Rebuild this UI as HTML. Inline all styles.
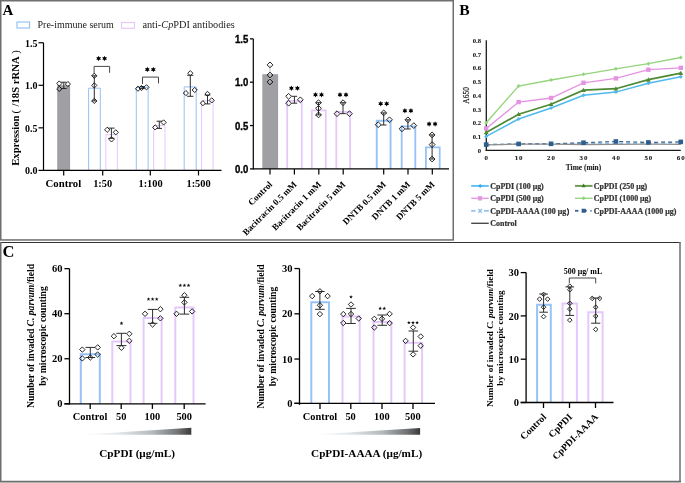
<!DOCTYPE html>
<html><head><meta charset="utf-8"><style>
html,body{margin:0;padding:0;background:#fff;}
body{width:685px;height:483px;overflow:hidden;font-family:"Liberation Serif",serif;}
svg{display:block;will-change:transform;}
</style></head><body>
<svg width="685" height="483" viewBox="0 0 685 483">
<rect width="685" height="483" fill="#fff"/>
<rect x="0.75" y="0.75" width="452.5" height="239.2" fill="none" stroke="#6e6e6e" stroke-width="1.5" />
<line x1="0" y1="242.5" x2="680.5" y2="242.5" stroke="#333" stroke-width="1.2" />
<line x1="0.75" y1="242" x2="0.75" y2="482" stroke="#6e6e6e" stroke-width="1.5" />
<line x1="680" y1="242" x2="680" y2="482" stroke="#6e6e6e" stroke-width="1.5" />
<line x1="0" y1="481.5" x2="681" y2="481.5" stroke="#6e6e6e" stroke-width="1.5" />
<rect x="0" y="482.2" width="680.8" height="0.8" fill="#a8a8a8" stroke="none" stroke-width="1" />
<text x="2.5" y="15" font-size="15" text-anchor="start" font-weight="bold" font-family='"Liberation Serif", serif' fill="#000" >A</text>
<text x="459.2" y="14.7" font-size="15.6" text-anchor="start" font-weight="bold" font-family='"Liberation Serif", serif' fill="#000" >B</text>
<text x="2.6" y="257.4" font-size="16.5" text-anchor="start" font-weight="bold" font-family='"Liberation Serif", serif' fill="#000" >C</text>
<rect x="17" y="22" width="12.5" height="6" fill="none" stroke="#96c3f6" stroke-width="1.2" />
<text x="37.5" y="28.3" font-size="10" text-anchor="start" font-weight="normal" font-family='"Liberation Serif", serif' fill="#222" >Pre-immune serum</text>
<rect x="121.5" y="22.5" width="13" height="5.8" fill="none" stroke="#e5c9fa" stroke-width="1.2" />
<text x="142.4" y="28.4" font-size="10.3" text-anchor="start" font-weight="normal" font-family='"Liberation Serif", serif' fill="#222" >anti-<tspan font-style="italic">Cp</tspan>PDI antibodies</text>
<text x="37.4" y="46.55000000000001" font-size="10" text-anchor="end" font-weight="bold" font-family='"Liberation Serif", serif' fill="#000" >1.5</text>
<text x="37.4" y="89.10000000000001" font-size="10" text-anchor="end" font-weight="bold" font-family='"Liberation Serif", serif' fill="#000" >1.0</text>
<text x="37.4" y="131.65" font-size="10" text-anchor="end" font-weight="bold" font-family='"Liberation Serif", serif' fill="#000" >0.5</text>
<text x="37.4" y="174.20000000000002" font-size="10" text-anchor="end" font-weight="bold" font-family='"Liberation Serif", serif' fill="#000" >0.0</text>
<text x="63.4" y="186.9" font-size="10.75" text-anchor="middle" font-weight="bold" font-family='"Liberation Serif", serif' fill="#000" >Control</text>
<text x="102.7" y="186.9" font-size="10.4" text-anchor="middle" font-weight="bold" font-family='"Liberation Serif", serif' fill="#000" >1:50</text>
<text x="150.6" y="186.9" font-size="10.4" text-anchor="middle" font-weight="bold" font-family='"Liberation Serif", serif' fill="#000" >1:100</text>
<text x="198.6" y="186.9" font-size="10.4" text-anchor="middle" font-weight="bold" font-family='"Liberation Serif", serif' fill="#000" >1:500</text>
<text font-size="10.7" font-weight="bold" font-family='"Liberation Serif", serif' transform="translate(19.2,165.8) rotate(-90)"><tspan x="0" y="0">Expression</tspan><tspan x="52.3" y="0" font-weight="normal">(</tspan><tspan x="59.3" y="0">/18S rRNA</tspan><tspan x="112" y="0" font-weight="normal">)</tspan></text>
<rect x="57.2" y="85.2" width="12.9" height="85.2" fill="#a0a0a4" stroke="none" stroke-width="1" />
<path d="M88.60,170.40V88.20H100.30V170.40" fill="none" stroke="#96c3f6" stroke-width="1.0"/>
<path d="M105.80,170.40V134.60H117.30V170.40" fill="none" stroke="#e5c9fa" stroke-width="1.0"/>
<path d="M136.30,170.40V87.50H148.10V170.40" fill="none" stroke="#96c3f6" stroke-width="1.0"/>
<path d="M153.70,170.40V125.50H165.00V170.40" fill="none" stroke="#e5c9fa" stroke-width="1.0"/>
<path d="M184.20,170.40V86.90H196.20V170.40" fill="none" stroke="#96c3f6" stroke-width="1.0"/>
<path d="M201.50,170.40V100.80H213.10V170.40" fill="none" stroke="#e5c9fa" stroke-width="1.0"/>
<path d="M59.30,80.90L61.90,83.50L59.30,86.10L56.70,83.50Z" fill="none" stroke="#000" stroke-width="0.85"/>
<path d="M67.90,81.50L70.50,84.10L67.90,86.70L65.30,84.10Z" fill="none" stroke="#000" stroke-width="0.85"/>
<path d="M59.30,86.30L61.90,88.90L59.30,91.50L56.70,88.90Z" fill="none" stroke="#000" stroke-width="0.85"/>
<line x1="63.8" y1="82.2" x2="63.8" y2="88.5" stroke="#222" stroke-width="0.95" />
<line x1="61.0" y1="82.2" x2="66.6" y2="82.2" stroke="#222" stroke-width="0.95" />
<line x1="61.0" y1="88.5" x2="66.6" y2="88.5" stroke="#222" stroke-width="0.95" />
<path d="M94.30,73.20L96.90,75.80L94.30,78.40L91.70,75.80Z" fill="none" stroke="#000" stroke-width="0.85"/>
<path d="M94.30,82.80L96.90,85.40L94.30,88.00L91.70,85.40Z" fill="none" stroke="#000" stroke-width="0.85"/>
<path d="M94.30,98.30L96.90,100.90L94.30,103.50L91.70,100.90Z" fill="none" stroke="#000" stroke-width="0.85"/>
<line x1="94.3" y1="75.8" x2="94.3" y2="100.9" stroke="#222" stroke-width="0.95" />
<line x1="91.7" y1="75.8" x2="96.89999999999999" y2="75.8" stroke="#222" stroke-width="0.95" />
<line x1="91.7" y1="100.9" x2="96.89999999999999" y2="100.9" stroke="#222" stroke-width="0.95" />
<path d="M107.20,127.20L109.80,129.80L107.20,132.40L104.60,129.80Z" fill="none" stroke="#000" stroke-width="0.85"/>
<path d="M115.80,129.70L118.40,132.30L115.80,134.90L113.20,132.30Z" fill="none" stroke="#000" stroke-width="0.85"/>
<path d="M111.50,136.80L114.10,139.40L111.50,142.00L108.90,139.40Z" fill="none" stroke="#000" stroke-width="0.85"/>
<line x1="111.4" y1="128.1" x2="111.4" y2="138.3" stroke="#222" stroke-width="0.95" />
<line x1="108.2" y1="128.1" x2="114.60000000000001" y2="128.1" stroke="#222" stroke-width="0.95" />
<line x1="108.2" y1="138.3" x2="114.60000000000001" y2="138.3" stroke="#222" stroke-width="0.95" />
<path d="M138.00,86.10L140.60,88.70L138.00,91.30L135.40,88.70Z" fill="none" stroke="#000" stroke-width="0.85"/>
<path d="M146.50,84.70L149.10,87.30L146.50,89.90L143.90,87.30Z" fill="none" stroke="#000" stroke-width="0.85"/>
<path d="M141.50,85.40L144.10,88.00L141.50,90.60L138.90,88.00Z" fill="none" stroke="#000" stroke-width="0.85"/>
<line x1="142.3" y1="86.6" x2="142.3" y2="88.6" stroke="#222" stroke-width="0.95" />
<line x1="139.8" y1="86.6" x2="144.8" y2="86.6" stroke="#222" stroke-width="0.95" />
<line x1="139.8" y1="88.6" x2="144.8" y2="88.6" stroke="#222" stroke-width="0.95" />
<path d="M155.20,124.80L157.80,127.40L155.20,130.00L152.60,127.40Z" fill="none" stroke="#000" stroke-width="0.85"/>
<path d="M163.60,119.80L166.20,122.40L163.60,125.00L161.00,122.40Z" fill="none" stroke="#000" stroke-width="0.85"/>
<line x1="159.3" y1="121.2" x2="159.3" y2="128.4" stroke="#222" stroke-width="0.95" />
<line x1="156.60000000000002" y1="121.2" x2="162.0" y2="121.2" stroke="#222" stroke-width="0.95" />
<line x1="156.60000000000002" y1="128.4" x2="162.0" y2="128.4" stroke="#222" stroke-width="0.95" />
<path d="M190.30,70.60L192.90,73.20L190.30,75.80L187.70,73.20Z" fill="none" stroke="#000" stroke-width="0.85"/>
<path d="M185.90,90.50L188.50,93.10L185.90,95.70L183.30,93.10Z" fill="none" stroke="#000" stroke-width="0.85"/>
<path d="M194.70,87.40L197.30,90.00L194.70,92.60L192.10,90.00Z" fill="none" stroke="#000" stroke-width="0.85"/>
<line x1="190.3" y1="75.3" x2="190.3" y2="96.3" stroke="#222" stroke-width="0.95" />
<line x1="187.20000000000002" y1="75.3" x2="193.4" y2="75.3" stroke="#222" stroke-width="0.95" />
<line x1="187.20000000000002" y1="96.3" x2="193.4" y2="96.3" stroke="#222" stroke-width="0.95" />
<path d="M207.50,91.30L210.10,93.90L207.50,96.50L204.90,93.90Z" fill="none" stroke="#000" stroke-width="0.85"/>
<path d="M202.90,100.60L205.50,103.20L202.90,105.80L200.30,103.20Z" fill="none" stroke="#000" stroke-width="0.85"/>
<path d="M211.70,97.80L214.30,100.40L211.70,103.00L209.10,100.40Z" fill="none" stroke="#000" stroke-width="0.85"/>
<line x1="207.5" y1="95.0" x2="207.5" y2="103.9" stroke="#222" stroke-width="0.95" />
<line x1="204.6" y1="95.0" x2="210.4" y2="95.0" stroke="#222" stroke-width="0.95" />
<line x1="204.6" y1="103.9" x2="210.4" y2="103.9" stroke="#222" stroke-width="0.95" />
<path d="M94.1,74 V66.4 H109.6 V72.8" fill="none" stroke="#333" stroke-width="0.9"/>
<path d="M142.5,84 V77.1 H158.5 V83.4" fill="none" stroke="#333" stroke-width="0.9"/>
<polygon points="98.60,55.65 99.32,57.14 100.98,57.02 100.05,58.40 100.98,59.77 99.32,59.66 98.60,61.15 97.88,59.66 96.22,59.77 97.15,58.40 96.22,57.02 97.88,57.14" fill="#000"/>
<polygon points="104.60,55.65 105.32,57.14 106.98,57.02 106.05,58.40 106.98,59.77 105.32,59.66 104.60,61.15 103.88,59.66 102.22,59.77 103.15,58.40 102.22,57.02 103.88,57.14" fill="#000"/>
<polygon points="147.30,66.85 148.03,68.34 149.68,68.22 148.75,69.60 149.68,70.97 148.03,70.86 147.30,72.35 146.58,70.86 144.92,70.97 145.85,69.60 144.92,68.22 146.58,68.34" fill="#000"/>
<polygon points="153.30,66.85 154.03,68.34 155.68,68.22 154.75,69.60 155.68,70.97 154.03,70.86 153.30,72.35 152.58,70.86 150.92,70.97 151.85,69.60 150.92,68.22 152.58,68.34" fill="#000"/>
<text x="0" y="0" font-size="10.4" text-anchor="end" font-weight="bold" font-family='"Liberation Sans", sans-serif' fill="#000" transform="translate(248.3,42.95) scale(0.92,1)" stroke="#000" stroke-width="0.35">1.5</text>
<text x="0" y="0" font-size="10.4" text-anchor="end" font-weight="bold" font-family='"Liberation Sans", sans-serif' fill="#000" transform="translate(248.3,86.30) scale(0.92,1)" stroke="#000" stroke-width="0.35">1.0</text>
<text x="0" y="0" font-size="10.4" text-anchor="end" font-weight="bold" font-family='"Liberation Sans", sans-serif' fill="#000" transform="translate(248.3,129.65) scale(0.92,1)" stroke="#000" stroke-width="0.35">0.5</text>
<text x="0" y="0" font-size="10.4" text-anchor="end" font-weight="bold" font-family='"Liberation Sans", sans-serif' fill="#000" transform="translate(248.3,173.00) scale(0.92,1)" stroke="#000" stroke-width="0.35">0.0</text>
<text x="0" y="0" font-size="9.05" text-anchor="end" font-weight="bold" font-family='"Liberation Serif", serif' fill="#000" transform="translate(272.9,184.9) rotate(-45)">Control</text>
<text x="0" y="0" font-size="9.05" text-anchor="end" font-weight="bold" font-family='"Liberation Serif", serif' fill="#000" transform="translate(297.29999999999995,184.9) rotate(-45)">Bacitracin 0.5 mM</text>
<text x="0" y="0" font-size="9.05" text-anchor="end" font-weight="bold" font-family='"Liberation Serif", serif' fill="#000" transform="translate(321.7,184.9) rotate(-45)">Bacitracin 1 mM</text>
<text x="0" y="0" font-size="9.05" text-anchor="end" font-weight="bold" font-family='"Liberation Serif", serif' fill="#000" transform="translate(346.09999999999997,184.9) rotate(-45)">Bacitracin 5 mM</text>
<text x="0" y="0" font-size="9.05" text-anchor="end" font-weight="bold" font-family='"Liberation Serif", serif' fill="#000" transform="translate(386.59999999999997,184.9) rotate(-45)">DNTB 0.5 mM</text>
<text x="0" y="0" font-size="9.05" text-anchor="end" font-weight="bold" font-family='"Liberation Serif", serif' fill="#000" transform="translate(410.9,184.9) rotate(-45)">DNTB 1 mM</text>
<text x="0" y="0" font-size="9.05" text-anchor="end" font-weight="bold" font-family='"Liberation Serif", serif' fill="#000" transform="translate(435.2,184.9) rotate(-45)">DNTB 5 mM</text>
<rect x="262.3" y="74.2" width="15.8" height="94.7" fill="#a0a0a4" stroke="none" stroke-width="1" />
<path d="M287.20,168.90V100.90H301.80V168.90" fill="none" stroke="#e5c9fa" stroke-width="1.8"/>
<path d="M311.80,168.90V110.30H325.80V168.90" fill="none" stroke="#e5c9fa" stroke-width="1.8"/>
<path d="M336.30,168.90V111.90H350.10V168.90" fill="none" stroke="#e5c9fa" stroke-width="1.8"/>
<path d="M376.75,168.90V120.75H390.55V168.90" fill="none" stroke="#96c3f6" stroke-width="1.9"/>
<path d="M401.70,168.90V126.30H415.30V168.90" fill="none" stroke="#96c3f6" stroke-width="1.8"/>
<path d="M425.90,168.90V147.40H439.70V168.90" fill="none" stroke="#96c3f6" stroke-width="1.8"/>
<line x1="270" y1="65" x2="270" y2="74.2" stroke="#bbb" stroke-width="0.9" />
<line x1="270" y1="74.2" x2="270" y2="82" stroke="#ccc" stroke-width="0.9" />
<path d="M270.00,62.00L272.90,64.90L270.00,67.80L267.10,64.90Z" fill="none" stroke="#000" stroke-width="0.85"/>
<path d="M270.00,72.10L272.90,75.00L270.00,77.90L267.10,75.00Z" fill="none" stroke="#000" stroke-width="0.85"/>
<path d="M270.00,79.10L272.90,82.00L270.00,84.90L267.10,82.00Z" fill="none" stroke="#000" stroke-width="0.85"/>
<path d="M288.60,93.40L291.50,96.30L288.60,99.20L285.70,96.30Z" fill="none" stroke="#000" stroke-width="0.85"/>
<path d="M288.60,100.30L291.50,103.20L288.60,106.10L285.70,103.20Z" fill="none" stroke="#000" stroke-width="0.85"/>
<path d="M300.30,96.90L303.20,99.80L300.30,102.70L297.40,99.80Z" fill="none" stroke="#000" stroke-width="0.85"/>
<line x1="294.4" y1="96.3" x2="294.4" y2="103.2" stroke="#222" stroke-width="0.95" />
<line x1="291.59999999999997" y1="96.3" x2="297.2" y2="96.3" stroke="#222" stroke-width="0.95" />
<line x1="291.59999999999997" y1="103.2" x2="297.2" y2="103.2" stroke="#222" stroke-width="0.95" />
<path d="M318.50,99.80L321.40,102.70L318.50,105.60L315.60,102.70Z" fill="none" stroke="#000" stroke-width="0.85"/>
<path d="M318.50,105.40L321.40,108.30L318.50,111.20L315.60,108.30Z" fill="none" stroke="#000" stroke-width="0.85"/>
<path d="M318.50,112.00L321.40,114.90L318.50,117.80L315.60,114.90Z" fill="none" stroke="#000" stroke-width="0.85"/>
<line x1="318.5" y1="102.7" x2="318.5" y2="114.9" stroke="#222" stroke-width="0.95" />
<line x1="315.7" y1="102.7" x2="321.3" y2="102.7" stroke="#222" stroke-width="0.95" />
<line x1="315.7" y1="114.9" x2="321.3" y2="114.9" stroke="#222" stroke-width="0.95" />
<path d="M343.00,99.80L345.90,102.70L343.00,105.60L340.10,102.70Z" fill="none" stroke="#000" stroke-width="0.85"/>
<path d="M337.00,110.80L339.90,113.70L337.00,116.60L334.10,113.70Z" fill="none" stroke="#000" stroke-width="0.85"/>
<path d="M349.50,110.80L352.40,113.70L349.50,116.60L346.60,113.70Z" fill="none" stroke="#000" stroke-width="0.85"/>
<line x1="343" y1="102.7" x2="343" y2="113.6" stroke="#222" stroke-width="0.95" />
<line x1="340.2" y1="102.7" x2="345.8" y2="102.7" stroke="#222" stroke-width="0.95" />
<line x1="340.2" y1="113.6" x2="345.8" y2="113.6" stroke="#222" stroke-width="0.95" />
<path d="M383.70,110.00L386.60,112.90L383.70,115.80L380.80,112.90Z" fill="none" stroke="#000" stroke-width="0.85"/>
<path d="M378.20,121.80L381.10,124.70L378.20,127.60L375.30,124.70Z" fill="none" stroke="#000" stroke-width="0.85"/>
<path d="M389.50,116.90L392.40,119.80L389.50,122.70L386.60,119.80Z" fill="none" stroke="#000" stroke-width="0.85"/>
<line x1="383.7" y1="112.9" x2="383.7" y2="125.0" stroke="#222" stroke-width="0.95" />
<line x1="380.9" y1="112.9" x2="386.5" y2="112.9" stroke="#222" stroke-width="0.95" />
<line x1="380.9" y1="125.0" x2="386.5" y2="125.0" stroke="#222" stroke-width="0.95" />
<path d="M407.90,116.90L410.80,119.80L407.90,122.70L405.00,119.80Z" fill="none" stroke="#000" stroke-width="0.85"/>
<path d="M402.00,125.90L404.90,128.80L402.00,131.70L399.10,128.80Z" fill="none" stroke="#000" stroke-width="0.85"/>
<path d="M413.80,122.70L416.70,125.60L413.80,128.50L410.90,125.60Z" fill="none" stroke="#000" stroke-width="0.85"/>
<line x1="407.9" y1="119.8" x2="407.9" y2="129.0" stroke="#222" stroke-width="0.95" />
<line x1="405.09999999999997" y1="119.8" x2="410.7" y2="119.8" stroke="#222" stroke-width="0.95" />
<line x1="405.09999999999997" y1="129.0" x2="410.7" y2="129.0" stroke="#222" stroke-width="0.95" />
<path d="M432.10,132.00L435.00,134.90L432.10,137.80L429.20,134.90Z" fill="none" stroke="#000" stroke-width="0.85"/>
<path d="M432.10,141.70L435.00,144.60L432.10,147.50L429.20,144.60Z" fill="none" stroke="#000" stroke-width="0.85"/>
<path d="M432.10,156.10L435.00,159.00L432.10,161.90L429.20,159.00Z" fill="none" stroke="#000" stroke-width="0.85"/>
<line x1="432.1" y1="134.9" x2="432.1" y2="159.0" stroke="#222" stroke-width="0.95" />
<line x1="429.3" y1="134.9" x2="434.90000000000003" y2="134.9" stroke="#222" stroke-width="0.95" />
<line x1="429.3" y1="159.0" x2="434.90000000000003" y2="159.0" stroke="#222" stroke-width="0.95" />
<polygon points="291.40,85.45 292.12,86.94 293.78,86.82 292.85,88.20 293.78,89.57 292.12,89.46 291.40,90.95 290.67,89.46 289.02,89.57 289.95,88.20 289.02,86.82 290.67,86.94" fill="#000"/>
<polygon points="297.40,85.45 298.12,86.94 299.78,86.82 298.85,88.20 299.78,89.57 298.12,89.46 297.40,90.95 296.67,89.46 295.02,89.57 295.95,88.20 295.02,86.82 296.67,86.94" fill="#000"/>
<polygon points="315.50,92.05 316.23,93.54 317.88,93.42 316.95,94.80 317.88,96.17 316.23,96.06 315.50,97.55 314.77,96.06 313.12,96.17 314.05,94.80 313.12,93.42 314.77,93.54" fill="#000"/>
<polygon points="321.50,92.05 322.23,93.54 323.88,93.42 322.95,94.80 323.88,96.17 322.23,96.06 321.50,97.55 320.77,96.06 319.12,96.17 320.05,94.80 319.12,93.42 320.77,93.54" fill="#000"/>
<polygon points="340.00,92.05 340.73,93.54 342.38,93.42 341.45,94.80 342.38,96.17 340.73,96.06 340.00,97.55 339.27,96.06 337.62,96.17 338.55,94.80 337.62,93.42 339.27,93.54" fill="#000"/>
<polygon points="346.00,92.05 346.73,93.54 348.38,93.42 347.45,94.80 348.38,96.17 346.73,96.06 346.00,97.55 345.27,96.06 343.62,96.17 344.55,94.80 343.62,93.42 345.27,93.54" fill="#000"/>
<polygon points="380.70,100.95 381.43,102.44 383.08,102.32 382.15,103.70 383.08,105.07 381.43,104.96 380.70,106.45 379.97,104.96 378.32,105.07 379.25,103.70 378.32,102.32 379.97,102.44" fill="#000"/>
<polygon points="386.70,100.95 387.43,102.44 389.08,102.32 388.15,103.70 389.08,105.07 387.43,104.96 386.70,106.45 385.97,104.96 384.32,105.07 385.25,103.70 384.32,102.32 385.97,102.44" fill="#000"/>
<polygon points="404.90,108.05 405.62,109.54 407.28,109.42 406.35,110.80 407.28,112.17 405.62,112.06 404.90,113.55 404.17,112.06 402.52,112.17 403.45,110.80 402.52,109.42 404.17,109.54" fill="#000"/>
<polygon points="410.90,108.05 411.62,109.54 413.28,109.42 412.35,110.80 413.28,112.17 411.62,112.06 410.90,113.55 410.17,112.06 408.52,112.17 409.45,110.80 408.52,109.42 410.17,109.54" fill="#000"/>
<polygon points="429.10,121.15 429.83,122.64 431.48,122.53 430.55,123.90 431.48,125.28 429.83,125.16 429.10,126.65 428.38,125.16 426.72,125.28 427.65,123.90 426.72,122.53 428.38,122.64" fill="#000"/>
<polygon points="435.10,121.15 435.83,122.64 437.48,122.53 436.55,123.90 437.48,125.28 435.83,125.16 435.10,126.65 434.38,125.16 432.72,125.28 433.65,123.90 432.72,122.53 434.38,122.64" fill="#000"/>
<line x1="486.3" y1="40.2" x2="486.3" y2="151.0" stroke="#1a1a1a" stroke-width="1.3" />
<line x1="485.7" y1="150.4" x2="680.8" y2="150.4" stroke="#1a1a1a" stroke-width="1.3" />
<text x="0" y="0" font-size="6.9" text-anchor="end" font-weight="bold" font-family='"Liberation Serif", serif' fill="#222" transform="translate(481.1,152.70) scale(0.97,1)" stroke="#222" stroke-width="0.12">0</text>
<text x="0" y="0" font-size="6.9" text-anchor="end" font-weight="bold" font-family='"Liberation Serif", serif' fill="#222" transform="translate(481.1,138.98) scale(0.97,1)" stroke="#222" stroke-width="0.12">0.1</text>
<text x="0" y="0" font-size="6.9" text-anchor="end" font-weight="bold" font-family='"Liberation Serif", serif' fill="#222" transform="translate(481.1,125.26) scale(0.97,1)" stroke="#222" stroke-width="0.12">0.2</text>
<text x="0" y="0" font-size="6.9" text-anchor="end" font-weight="bold" font-family='"Liberation Serif", serif' fill="#222" transform="translate(481.1,111.54) scale(0.97,1)" stroke="#222" stroke-width="0.12">0.3</text>
<text x="0" y="0" font-size="6.9" text-anchor="end" font-weight="bold" font-family='"Liberation Serif", serif' fill="#222" transform="translate(481.1,97.82) scale(0.97,1)" stroke="#222" stroke-width="0.12">0.4</text>
<text x="0" y="0" font-size="6.9" text-anchor="end" font-weight="bold" font-family='"Liberation Serif", serif' fill="#222" transform="translate(481.1,84.10) scale(0.97,1)" stroke="#222" stroke-width="0.12">0.5</text>
<text x="0" y="0" font-size="6.9" text-anchor="end" font-weight="bold" font-family='"Liberation Serif", serif' fill="#222" transform="translate(481.1,70.38) scale(0.97,1)" stroke="#222" stroke-width="0.12">0.6</text>
<text x="0" y="0" font-size="6.9" text-anchor="end" font-weight="bold" font-family='"Liberation Serif", serif' fill="#222" transform="translate(481.1,56.66) scale(0.97,1)" stroke="#222" stroke-width="0.12">0.7</text>
<text x="0" y="0" font-size="6.9" text-anchor="end" font-weight="bold" font-family='"Liberation Serif", serif' fill="#222" transform="translate(481.1,42.94) scale(0.97,1)" stroke="#222" stroke-width="0.12">0.8</text>
<text x="486.7" y="160.1" font-size="6.9" text-anchor="middle" font-weight="bold" font-family='"Liberation Serif", serif' fill="#222" letter-spacing="1" stroke="#222" stroke-width="0.12">0</text>
<text x="519.13" y="160.1" font-size="6.9" text-anchor="middle" font-weight="bold" font-family='"Liberation Serif", serif' fill="#222" letter-spacing="1" stroke="#222" stroke-width="0.12">10</text>
<text x="551.56" y="160.1" font-size="6.9" text-anchor="middle" font-weight="bold" font-family='"Liberation Serif", serif' fill="#222" letter-spacing="1" stroke="#222" stroke-width="0.12">20</text>
<text x="583.99" y="160.1" font-size="6.9" text-anchor="middle" font-weight="bold" font-family='"Liberation Serif", serif' fill="#222" letter-spacing="1" stroke="#222" stroke-width="0.12">30</text>
<text x="616.42" y="160.1" font-size="6.9" text-anchor="middle" font-weight="bold" font-family='"Liberation Serif", serif' fill="#222" letter-spacing="1" stroke="#222" stroke-width="0.12">40</text>
<text x="648.85" y="160.1" font-size="6.9" text-anchor="middle" font-weight="bold" font-family='"Liberation Serif", serif' fill="#222" letter-spacing="1" stroke="#222" stroke-width="0.12">50</text>
<text x="681.28" y="160.1" font-size="6.9" text-anchor="middle" font-weight="bold" font-family='"Liberation Serif", serif' fill="#222" letter-spacing="1" stroke="#222" stroke-width="0.12">60</text>
<text x="583.5" y="170.2" font-size="7.4" text-anchor="middle" font-weight="bold" font-family='"Liberation Serif", serif' fill="#222" stroke="#222" stroke-width="0.1">Time (min)</text>
<text x="0" y="0" font-size="8.4" text-anchor="middle" font-weight="normal" font-family='"Liberation Serif", serif' fill="#222" transform="translate(469.2,95.4) rotate(-90) scale(0.9,1)" stroke="#222" stroke-width="0.2">A650</text>
<polyline points="486.2,144.9 518.6,144.2 551.1,143.8 583.5,143.5 615.9,143.3 648.4,143.5 680.8,142.9" fill="none" stroke="#8cc4ec" stroke-width="1.1" stroke-dasharray="4,3"/>
<polyline points="486.2,144.6 518.6,144.0 551.1,143.8 583.5,142.7 615.9,141.5 648.4,142.4 680.8,141.9" fill="none" stroke="#2f5d8c" stroke-width="1.2" stroke-dasharray="4,3"/>
<polyline points="486.2,144.8 518.6,144.2 551.1,144.1 583.5,144.5 615.9,144.4 648.4,144.1 680.8,144.4" fill="none" stroke="#8f8f8f" stroke-width="1.3"/>
<rect x="483.9" y="142.3376" width="4.6" height="4.6" fill="#2f5d8c" stroke="none" stroke-width="1" />
<rect x="516.33" y="141.6516" width="4.6" height="4.6" fill="#2f5d8c" stroke="none" stroke-width="1" />
<rect x="548.76" y="141.5144" width="4.6" height="4.6" fill="#2f5d8c" stroke="none" stroke-width="1" />
<rect x="581.19" y="140.4168" width="4.6" height="4.6" fill="#2f5d8c" stroke="none" stroke-width="1" />
<rect x="613.62" y="139.182" width="4.6" height="4.6" fill="#2f5d8c" stroke="none" stroke-width="1" />
<rect x="646.0500000000001" y="140.1424" width="4.6" height="4.6" fill="#2f5d8c" stroke="none" stroke-width="1" />
<rect x="678.48" y="139.59359999999998" width="4.6" height="4.6" fill="#2f5d8c" stroke="none" stroke-width="1" />
<polyline points="486.2,136.4 518.6,119.0 551.1,108.0 583.5,95.2 615.9,92.1 648.4,83.2 680.8,76.7" fill="none" stroke="#4fb9ef" stroke-width="1.5"/>
<path d="M486.2,134.40560000000002L488.2,136.40560000000002L486.2,138.40560000000002L484.2,136.40560000000002Z" fill="#4fb9ef"/>
<path d="M518.63,116.9812L520.63,118.9812L518.63,120.9812L516.63,118.9812Z" fill="#4fb9ef"/>
<path d="M551.06,106.0052L553.06,108.0052L551.06,110.0052L549.06,108.0052Z" fill="#4fb9ef"/>
<path d="M583.49,93.24560000000001L585.49,95.24560000000001L583.49,97.24560000000001L581.49,95.24560000000001Z" fill="#4fb9ef"/>
<path d="M615.92,90.09L617.92,92.09L615.92,94.09L613.92,92.09Z" fill="#4fb9ef"/>
<path d="M648.35,81.17200000000001L650.35,83.17200000000001L648.35,85.17200000000001L646.35,83.17200000000001Z" fill="#4fb9ef"/>
<path d="M680.78,74.7236L682.78,76.7236L680.78,78.7236L678.78,76.7236Z" fill="#4fb9ef"/>
<polyline points="486.2,132.4 518.6,114.2 551.1,104.2 583.5,90.2 615.9,88.7 648.4,79.7 680.8,73.2" fill="none" stroke="#4e8a34" stroke-width="1.7"/>
<path d="M486.2,130.0268L488.59999999999997,134.3468L483.8,134.3468Z" fill="#4e8a34"/>
<path d="M518.63,111.7792L521.03,116.09920000000001L516.23,116.09920000000001Z" fill="#4e8a34"/>
<path d="M551.06,101.7636L553.4599999999999,106.0836L548.66,106.0836Z" fill="#4e8a34"/>
<path d="M583.49,87.76920000000001L585.89,92.08920000000002L581.09,92.08920000000002Z" fill="#4e8a34"/>
<path d="M615.92,86.26L618.3199999999999,90.58000000000001L613.52,90.58000000000001Z" fill="#4e8a34"/>
<path d="M648.35,77.342L650.75,81.662L645.95,81.662Z" fill="#4e8a34"/>
<path d="M680.78,70.75640000000001L683.18,75.07640000000002L678.38,75.07640000000002Z" fill="#4e8a34"/>
<polyline points="486.2,128.4 518.6,102.1 551.1,98.0 583.5,82.8 615.9,78.4 648.4,69.7 680.8,67.8" fill="none" stroke="#e592e2" stroke-width="1.3"/>
<rect x="484.0" y="126.248" width="4.4" height="4.4" fill="#e592e2" stroke="none" stroke-width="1" />
<rect x="516.43" y="99.9056" width="4.4" height="4.4" fill="#e592e2" stroke="none" stroke-width="1" />
<rect x="548.8599999999999" y="95.78960000000001" width="4.4" height="4.4" fill="#e592e2" stroke="none" stroke-width="1" />
<rect x="581.29" y="80.56040000000002" width="4.4" height="4.4" fill="#e592e2" stroke="none" stroke-width="1" />
<rect x="613.7199999999999" y="76.17" width="4.4" height="4.4" fill="#e592e2" stroke="none" stroke-width="1" />
<rect x="646.15" y="67.52640000000001" width="4.4" height="4.4" fill="#e592e2" stroke="none" stroke-width="1" />
<rect x="678.5799999999999" y="65.60560000000001" width="4.4" height="4.4" fill="#e592e2" stroke="none" stroke-width="1" />
<polyline points="486.2,122.8 518.6,86.1 551.1,80.0 583.5,74.3 615.9,68.8 648.4,63.7 680.8,57.5" fill="none" stroke="#94d47c" stroke-width="1.3"/>
<path d="M486.2,120.8228L488.2,122.8228L486.2,124.8228L484.2,122.8228Z" fill="#94d47c"/>
<path d="M518.63,84.05320000000002L520.63,86.05320000000002L518.63,88.05320000000002L516.63,86.05320000000002Z" fill="#94d47c"/>
<path d="M551.06,78.0164L553.06,80.0164L551.06,82.0164L549.06,80.0164Z" fill="#94d47c"/>
<path d="M583.49,72.254L585.49,74.254L583.49,76.254L581.49,74.254Z" fill="#94d47c"/>
<path d="M615.92,66.76600000000002L617.92,68.76600000000002L615.92,70.76600000000002L613.92,68.76600000000002Z" fill="#94d47c"/>
<path d="M648.35,61.68960000000001L650.35,63.68960000000001L648.35,65.68960000000001L646.35,63.68960000000001Z" fill="#94d47c"/>
<path d="M680.78,55.515600000000006L682.78,57.515600000000006L680.78,59.515600000000006L678.78,57.515600000000006Z" fill="#94d47c"/>
<line x1="471.2" y1="185.9" x2="488.8" y2="185.9" stroke="#5cc0f0" stroke-width="1.9"/>
<path d="M480.2,183.9L482.2,185.9L480.2,187.9L478.2,185.9Z" fill="#3aa8e8"/>
<text x="490.3" y="188.6" font-size="7.95" text-anchor="start" font-weight="bold" font-family='"Liberation Serif", serif' fill="#333" stroke="#333" stroke-width="0.22">CpPDI (100 μg)</text>
<line x1="575.0" y1="185.9" x2="592.6" y2="185.9" stroke="#6f9e57" stroke-width="2.0"/>
<path d="M583.6,183.56L585.64,187.232L581.5600000000001,187.232Z" fill="#3b7a2a"/>
<text x="593.8" y="188.6" font-size="7.95" text-anchor="start" font-weight="bold" font-family='"Liberation Serif", serif' fill="#333" stroke="#333" stroke-width="0.22">CpPDI (250 μg)</text>
<line x1="471.2" y1="198.3" x2="488.8" y2="198.3" stroke="#e79ce5" stroke-width="1.5"/>
<rect x="477.9" y="196.1" width="4.2" height="4.4" fill="#e39ae0" stroke="none" stroke-width="1" />
<text x="490.3" y="201.0" font-size="7.95" text-anchor="start" font-weight="bold" font-family='"Liberation Serif", serif' fill="#333" stroke="#333" stroke-width="0.22">CpPDI (500 μg)</text>
<line x1="575.0" y1="198.3" x2="592.6" y2="198.3" stroke="#97d781" stroke-width="1.4"/>
<path d="M583.6,196.3L585.6,198.3L583.6,200.3L581.6,198.3Z" fill="#8fd37a"/>
<text x="593.8" y="201.0" font-size="7.95" text-anchor="start" font-weight="bold" font-family='"Liberation Serif", serif' fill="#333" stroke="#333" stroke-width="0.22">CpPDI (1000 μg)</text>
<line x1="471.2" y1="210.8" x2="475.5" y2="210.8" stroke="#92c2ea" stroke-width="1.8" />
<line x1="484.0" y1="210.8" x2="488.8" y2="210.8" stroke="#92c2ea" stroke-width="1.8" />
<path d="M478.4,208.9L481.8,212.7M481.8,208.9L478.4,212.7" stroke="#7ab4e6" stroke-width="1.1" fill="none"/>
<text x="490.3" y="213.5" font-size="7.95" text-anchor="start" font-weight="bold" font-family='"Liberation Serif", serif' fill="#333" stroke="#333" stroke-width="0.22">CpPDI-AAAA (100 μg）</text>
<line x1="575.0" y1="210.8" x2="578.4" y2="210.8" stroke="#3a6494" stroke-width="1.8" />
<path d="M581.6,208.8H585.4L587.0,210.8L585.4,212.8H581.6Z" fill="#2f5d8c"/>
<rect x="590.3" y="210.0" width="1.4" height="1.6" fill="#4a72a0" stroke="none" stroke-width="1" />
<text x="593.8" y="213.5" font-size="7.95" text-anchor="start" font-weight="bold" font-family='"Liberation Serif", serif' fill="#333" stroke="#333" stroke-width="0.22">CpPDI-AAAA (1000 μg)</text>
<line x1="471.2" y1="223.3" x2="488.8" y2="223.3" stroke="#4a4a4a" stroke-width="1.4" />
<text x="490.3" y="226.0" font-size="7.95" text-anchor="start" font-weight="bold" font-family='"Liberation Serif", serif' fill="#333" stroke="#333" stroke-width="0.22">Control</text>
<text x="62.5" y="272.25" font-size="10.5" text-anchor="end" font-weight="bold" font-family='"Liberation Serif", serif' fill="#000" >60</text>
<text x="62.5" y="317.30000000000007" font-size="10.5" text-anchor="end" font-weight="bold" font-family='"Liberation Serif", serif' fill="#000" >40</text>
<text x="62.5" y="362.35" font-size="10.5" text-anchor="end" font-weight="bold" font-family='"Liberation Serif", serif' fill="#000" >20</text>
<text x="62.5" y="407.40000000000003" font-size="10.5" text-anchor="end" font-weight="bold" font-family='"Liberation Serif", serif' fill="#000" >0</text>
<text x="90.1" y="420.3" font-size="10.4" text-anchor="middle" font-weight="bold" font-family='"Liberation Serif", serif' fill="#000" >Control</text>
<text x="121.2" y="420.3" font-size="10.4" text-anchor="middle" font-weight="bold" font-family='"Liberation Serif", serif' fill="#000" >50</text>
<text x="152.3" y="420.3" font-size="10.4" text-anchor="middle" font-weight="bold" font-family='"Liberation Serif", serif' fill="#000" >100</text>
<text x="184.2" y="420.3" font-size="10.4" text-anchor="middle" font-weight="bold" font-family='"Liberation Serif", serif' fill="#000" >500</text>
<text x="0" y="0" font-size="9.6" text-anchor="middle" font-weight="bold" font-family='"Liberation Serif", serif' fill="#000" transform="translate(34,336) rotate(-90)">Number of invaded <tspan font-style="italic">C. parvum</tspan>/field</text>
<text x="0" y="0" font-size="9.6" text-anchor="middle" font-weight="bold" font-family='"Liberation Serif", serif' fill="#000" transform="translate(45.5,336) rotate(-90)">by microscopic counting</text>
<path d="M80.80,403.80V354.30H99.80V403.80" fill="none" stroke="#96c3f6" stroke-width="2.0"/>
<path d="M112.30,403.80V341.40H130.50V403.80" fill="none" stroke="#e5c9fa" stroke-width="2.0"/>
<path d="M143.60,403.80V318.00H161.60V403.80" fill="none" stroke="#e5c9fa" stroke-width="2.0"/>
<path d="M175.30,403.80V307.40H193.50V403.80" fill="none" stroke="#e5c9fa" stroke-width="2.0"/>
<path d="M82.30,346.90L85.00,349.60L82.30,352.30L79.60,349.60Z" fill="none" stroke="#000" stroke-width="0.85"/>
<path d="M97.70,344.70L100.40,347.40L97.70,350.10L95.00,347.40Z" fill="none" stroke="#000" stroke-width="0.85"/>
<path d="M97.60,351.80L100.30,354.50L97.60,357.20L94.90,354.50Z" fill="none" stroke="#000" stroke-width="0.85"/>
<path d="M82.30,355.70L85.00,358.40L82.30,361.10L79.60,358.40Z" fill="none" stroke="#000" stroke-width="0.85"/>
<path d="M90.30,354.80L93.00,357.50L90.30,360.20L87.60,357.50Z" fill="none" stroke="#000" stroke-width="0.85"/>
<line x1="90.3" y1="347.4" x2="90.3" y2="357.5" stroke="#222" stroke-width="0.95" />
<line x1="85.5" y1="347.4" x2="95.1" y2="347.4" stroke="#222" stroke-width="0.95" />
<line x1="85.5" y1="357.5" x2="95.1" y2="357.5" stroke="#222" stroke-width="0.95" />
<path d="M113.90,333.50L116.60,336.20L113.90,338.90L111.20,336.20Z" fill="none" stroke="#000" stroke-width="0.85"/>
<path d="M129.30,331.10L132.00,333.80L129.30,336.50L126.60,333.80Z" fill="none" stroke="#000" stroke-width="0.85"/>
<path d="M129.30,338.10L132.00,340.80L129.30,343.50L126.60,340.80Z" fill="none" stroke="#000" stroke-width="0.85"/>
<path d="M121.40,345.10L124.10,347.80L121.40,350.50L118.70,347.80Z" fill="none" stroke="#000" stroke-width="0.85"/>
<line x1="121.4" y1="333.3" x2="121.4" y2="345.6" stroke="#222" stroke-width="0.95" />
<line x1="116.4" y1="333.3" x2="126.4" y2="333.3" stroke="#222" stroke-width="0.95" />
<line x1="116.4" y1="345.6" x2="126.4" y2="345.6" stroke="#222" stroke-width="0.95" />
<path d="M145.00,311.10L147.70,313.80L145.00,316.50L142.30,313.80Z" fill="none" stroke="#000" stroke-width="0.85"/>
<path d="M160.40,306.50L163.10,309.20L160.40,311.90L157.70,309.20Z" fill="none" stroke="#000" stroke-width="0.85"/>
<path d="M160.40,315.60L163.10,318.30L160.40,321.00L157.70,318.30Z" fill="none" stroke="#000" stroke-width="0.85"/>
<path d="M152.60,321.80L155.30,324.50L152.60,327.20L149.90,324.50Z" fill="none" stroke="#000" stroke-width="0.85"/>
<line x1="152.6" y1="309.4" x2="152.6" y2="323.3" stroke="#222" stroke-width="0.95" />
<line x1="147.79999999999998" y1="309.4" x2="157.4" y2="309.4" stroke="#222" stroke-width="0.95" />
<line x1="147.79999999999998" y1="323.3" x2="157.4" y2="323.3" stroke="#222" stroke-width="0.95" />
<path d="M184.40,292.50L187.10,295.20L184.40,297.90L181.70,295.20Z" fill="none" stroke="#000" stroke-width="0.85"/>
<path d="M184.40,299.70L187.10,302.40L184.40,305.10L181.70,302.40Z" fill="none" stroke="#000" stroke-width="0.85"/>
<path d="M176.50,311.10L179.20,313.80L176.50,316.50L173.80,313.80Z" fill="none" stroke="#000" stroke-width="0.85"/>
<path d="M192.10,308.70L194.80,311.40L192.10,314.10L189.40,311.40Z" fill="none" stroke="#000" stroke-width="0.85"/>
<line x1="184.4" y1="297.3" x2="184.4" y2="314.1" stroke="#222" stroke-width="0.95" />
<line x1="179.6" y1="297.3" x2="189.20000000000002" y2="297.3" stroke="#222" stroke-width="0.95" />
<line x1="179.6" y1="314.1" x2="189.20000000000002" y2="314.1" stroke="#222" stroke-width="0.95" />
<polygon points="121.50,321.35 122.00,322.61 123.35,322.70 122.31,323.56 122.65,324.88 121.50,324.15 120.35,324.88 120.69,323.56 119.65,322.70 121.00,322.61" fill="#111"/>
<polygon points="148.50,297.15 149.00,298.41 150.35,298.50 149.31,299.36 149.65,300.68 148.50,299.95 147.35,300.68 147.69,299.36 146.65,298.50 148.00,298.41" fill="#111"/>
<polygon points="152.60,297.15 153.10,298.41 154.45,298.50 153.41,299.36 153.75,300.68 152.60,299.95 151.45,300.68 151.79,299.36 150.75,298.50 152.10,298.41" fill="#111"/>
<polygon points="156.70,297.15 157.20,298.41 158.55,298.50 157.51,299.36 157.85,300.68 156.70,299.95 155.55,300.68 155.89,299.36 154.85,298.50 156.20,298.41" fill="#111"/>
<polygon points="180.30,283.45 180.80,284.71 182.15,284.80 181.11,285.66 181.45,286.98 180.30,286.25 179.15,286.98 179.49,285.66 178.45,284.80 179.80,284.71" fill="#111"/>
<polygon points="184.40,283.45 184.90,284.71 186.25,284.80 185.21,285.66 185.55,286.98 184.40,286.25 183.25,286.98 183.59,285.66 182.55,284.80 183.90,284.71" fill="#111"/>
<polygon points="188.50,283.45 189.00,284.71 190.35,284.80 189.31,285.66 189.65,286.98 188.50,286.25 187.35,286.98 187.69,285.66 186.65,284.80 188.00,284.71" fill="#111"/>
<defs><linearGradient id="g1" x1="0" x2="1" y1="0" y2="0"><stop offset="0" stop-color="#fff"/><stop offset="0.35" stop-color="#e2e7ea"/><stop offset="0.65" stop-color="#b4b9bc"/><stop offset="0.88" stop-color="#707274"/><stop offset="1" stop-color="#3a3a3a"/></linearGradient></defs>
<path d="M80.5,434.7 L191.3,427.8 L191.3,434.7 Z" fill="url(#g1)"/>
<text x="137.1" y="457.2" font-size="11.2" text-anchor="middle" font-weight="bold" font-family='"Liberation Serif", serif' fill="#000" >CpPDI (μg/mL)</text>
<text x="292.5" y="272.15000000000003" font-size="10.5" text-anchor="end" font-weight="bold" font-family='"Liberation Serif", serif' fill="#000" >30</text>
<text x="292.5" y="317.40000000000003" font-size="10.5" text-anchor="end" font-weight="bold" font-family='"Liberation Serif", serif' fill="#000" >20</text>
<text x="292.5" y="362.65000000000003" font-size="10.5" text-anchor="end" font-weight="bold" font-family='"Liberation Serif", serif' fill="#000" >10</text>
<text x="292.5" y="406.90000000000003" font-size="10.5" text-anchor="end" font-weight="bold" font-family='"Liberation Serif", serif' fill="#000" >0</text>
<text x="320" y="420.3" font-size="10.4" text-anchor="middle" font-weight="bold" font-family='"Liberation Serif", serif' fill="#000" >Control</text>
<text x="350.6" y="420.3" font-size="10.4" text-anchor="middle" font-weight="bold" font-family='"Liberation Serif", serif' fill="#000" >50</text>
<text x="381.8" y="420.3" font-size="10.4" text-anchor="middle" font-weight="bold" font-family='"Liberation Serif", serif' fill="#000" >100</text>
<text x="412.9" y="420.3" font-size="10.4" text-anchor="middle" font-weight="bold" font-family='"Liberation Serif", serif' fill="#000" >500</text>
<text x="0" y="0" font-size="9.6" text-anchor="middle" font-weight="bold" font-family='"Liberation Serif", serif' fill="#000" transform="translate(264.3,336.5) rotate(-90)">Number of invaded <tspan font-style="italic">C. parvum</tspan>/field</text>
<text x="0" y="0" font-size="9.6" text-anchor="middle" font-weight="bold" font-family='"Liberation Serif", serif' fill="#000" transform="translate(275.9,336.5) rotate(-90)">by microscopic counting</text>
<path d="M311.30,403.30V302.30H329.00V403.30" fill="none" stroke="#96c3f6" stroke-width="2.0"/>
<path d="M342.50,403.30V316.50H359.70V403.30" fill="none" stroke="#e5c9fa" stroke-width="2.0"/>
<path d="M373.50,403.30V321.90H391.30V403.30" fill="none" stroke="#e5c9fa" stroke-width="2.0"/>
<path d="M404.60,403.30V342.70H422.10V403.30" fill="none" stroke="#e5c9fa" stroke-width="2.0"/>
<path d="M319.90,288.60L322.60,291.30L319.90,294.00L317.20,291.30Z" fill="none" stroke="#000" stroke-width="0.85"/>
<path d="M312.20,293.40L314.90,296.10L312.20,298.80L309.50,296.10Z" fill="none" stroke="#000" stroke-width="0.85"/>
<path d="M327.60,293.40L330.30,296.10L327.60,298.80L324.90,296.10Z" fill="none" stroke="#000" stroke-width="0.85"/>
<path d="M319.90,302.60L322.60,305.30L319.90,308.00L317.20,305.30Z" fill="none" stroke="#000" stroke-width="0.85"/>
<path d="M319.90,311.40L322.60,314.10L319.90,316.80L317.20,314.10Z" fill="none" stroke="#000" stroke-width="0.85"/>
<line x1="319.9" y1="291.5" x2="319.9" y2="309.3" stroke="#222" stroke-width="0.95" />
<line x1="315.09999999999997" y1="291.5" x2="324.7" y2="291.5" stroke="#222" stroke-width="0.95" />
<line x1="315.09999999999997" y1="309.3" x2="324.7" y2="309.3" stroke="#222" stroke-width="0.95" />
<path d="M351.00,301.80L353.70,304.50L351.00,307.20L348.30,304.50Z" fill="none" stroke="#000" stroke-width="0.85"/>
<path d="M343.30,311.40L346.00,314.10L343.30,316.80L340.60,314.10Z" fill="none" stroke="#000" stroke-width="0.85"/>
<path d="M351.00,311.30L353.70,314.00L351.00,316.70L348.30,314.00Z" fill="none" stroke="#000" stroke-width="0.85"/>
<path d="M358.70,315.80L361.40,318.50L358.70,321.20L356.00,318.50Z" fill="none" stroke="#000" stroke-width="0.85"/>
<path d="M343.30,320.30L346.00,323.00L343.30,325.70L340.60,323.00Z" fill="none" stroke="#000" stroke-width="0.85"/>
<line x1="351" y1="308.4" x2="351" y2="323.5" stroke="#222" stroke-width="0.95" />
<line x1="346.2" y1="308.4" x2="355.8" y2="308.4" stroke="#222" stroke-width="0.95" />
<line x1="346.2" y1="323.5" x2="355.8" y2="323.5" stroke="#222" stroke-width="0.95" />
<path d="M374.30,316.10L377.00,318.80L374.30,321.50L371.60,318.80Z" fill="none" stroke="#000" stroke-width="0.85"/>
<path d="M382.00,316.10L384.70,318.80L382.00,321.50L379.30,318.80Z" fill="none" stroke="#000" stroke-width="0.85"/>
<path d="M389.60,311.20L392.30,313.90L389.60,316.60L386.90,313.90Z" fill="none" stroke="#000" stroke-width="0.85"/>
<path d="M389.60,320.40L392.30,323.10L389.60,325.80L386.90,323.10Z" fill="none" stroke="#000" stroke-width="0.85"/>
<path d="M374.30,324.80L377.00,327.50L374.30,330.20L371.60,327.50Z" fill="none" stroke="#000" stroke-width="0.85"/>
<line x1="382.2" y1="315" x2="382.2" y2="325.3" stroke="#222" stroke-width="0.95" />
<line x1="377.4" y1="315" x2="387.0" y2="315" stroke="#222" stroke-width="0.95" />
<line x1="377.4" y1="325.3" x2="387.0" y2="325.3" stroke="#222" stroke-width="0.95" />
<path d="M413.10,324.80L415.80,327.50L413.10,330.20L410.40,327.50Z" fill="none" stroke="#000" stroke-width="0.85"/>
<path d="M405.60,338.20L408.30,340.90L405.60,343.60L402.90,340.90Z" fill="none" stroke="#000" stroke-width="0.85"/>
<path d="M420.70,333.80L423.40,336.50L420.70,339.20L418.00,336.50Z" fill="none" stroke="#000" stroke-width="0.85"/>
<path d="M420.70,343.00L423.40,345.70L420.70,348.40L418.00,345.70Z" fill="none" stroke="#000" stroke-width="0.85"/>
<path d="M413.10,351.70L415.80,354.40L413.10,357.10L410.40,354.40Z" fill="none" stroke="#000" stroke-width="0.85"/>
<line x1="413.3" y1="331" x2="413.3" y2="351.2" stroke="#222" stroke-width="0.95" />
<line x1="408.5" y1="331" x2="418.1" y2="331" stroke="#222" stroke-width="0.95" />
<line x1="408.5" y1="351.2" x2="418.1" y2="351.2" stroke="#222" stroke-width="0.95" />
<polygon points="351.00,295.05 351.50,296.31 352.85,296.40 351.81,297.26 352.15,298.58 351.00,297.85 349.85,298.58 350.19,297.26 349.15,296.40 350.50,296.31" fill="#111"/>
<polygon points="380.15,306.55 380.65,307.81 382.00,307.90 380.96,308.76 381.30,310.08 380.15,309.35 379.00,310.08 379.34,308.76 378.30,307.90 379.65,307.81" fill="#111"/>
<polygon points="384.25,306.55 384.75,307.81 386.10,307.90 385.06,308.76 385.40,310.08 384.25,309.35 383.10,310.08 383.44,308.76 382.40,307.90 383.75,307.81" fill="#111"/>
<polygon points="408.90,320.75 409.40,322.01 410.75,322.10 409.71,322.96 410.05,324.28 408.90,323.55 407.75,324.28 408.09,322.96 407.05,322.10 408.40,322.01" fill="#111"/>
<polygon points="413.00,320.75 413.50,322.01 414.85,322.10 413.81,322.96 414.15,324.28 413.00,323.55 411.85,324.28 412.19,322.96 411.15,322.10 412.50,322.01" fill="#111"/>
<polygon points="417.10,320.75 417.60,322.01 418.95,322.10 417.91,322.96 418.25,324.28 417.10,323.55 415.95,324.28 416.29,322.96 415.25,322.10 416.60,322.01" fill="#111"/>
<path d="M311.2,434.8 L420.1,427.9 L420.1,434.8 Z" fill="url(#g1)"/>
<text x="366.6" y="456.6" font-size="11.2" text-anchor="middle" font-weight="bold" font-family='"Liberation Serif", serif' fill="#000" >CpPDI-AAAA (μg/mL)</text>
<text x="519" y="276.20000000000005" font-size="10.5" text-anchor="end" font-weight="bold" font-family='"Liberation Serif", serif' fill="#000" >30</text>
<text x="519" y="319.5" font-size="10.5" text-anchor="end" font-weight="bold" font-family='"Liberation Serif", serif' fill="#000" >20</text>
<text x="519" y="362.8" font-size="10.5" text-anchor="end" font-weight="bold" font-family='"Liberation Serif", serif' fill="#000" >10</text>
<text x="519" y="406.1" font-size="10.5" text-anchor="end" font-weight="bold" font-family='"Liberation Serif", serif' fill="#000" >0</text>
<text x="0" y="0" font-size="9.7" text-anchor="end" font-weight="bold" font-family='"Liberation Serif", serif' fill="#000" transform="translate(546.8,417.6) rotate(-45)">Control</text>
<text x="0" y="0" font-size="9.7" text-anchor="end" font-weight="bold" font-family='"Liberation Serif", serif' fill="#000" transform="translate(572.8,417.6) rotate(-45)">CpPDI</text>
<text x="0" y="0" font-size="9.7" text-anchor="end" font-weight="bold" font-family='"Liberation Serif", serif' fill="#000" transform="translate(598.8,417.6) rotate(-45)">CpPDI-AAAA</text>
<text x="0" y="0" font-size="9.2" text-anchor="middle" font-weight="bold" font-family='"Liberation Serif", serif' fill="#000" transform="translate(492.6,338) rotate(-90)">Number of invaded <tspan font-style="italic">C. parvum</tspan>/field</text>
<text x="0" y="0" font-size="9.2" text-anchor="middle" font-weight="bold" font-family='"Liberation Serif", serif' fill="#000" transform="translate(503.2,338) rotate(-90)">by microscopic counting</text>
<path d="M537.10,402.50V304.70H550.80V402.50" fill="none" stroke="#96c3f6" stroke-width="2.0"/>
<path d="M562.60,402.50V303.60H576.90V402.50" fill="none" stroke="#e5c9fa" stroke-width="2.0"/>
<path d="M588.30,402.50V312.20H602.60V402.50" fill="none" stroke="#e5c9fa" stroke-width="2.0"/>
<path d="M539.60,296.80L541.90,299.10L539.60,301.40L537.30,299.10Z" fill="none" stroke="#000" stroke-width="0.85"/>
<path d="M547.60,296.80L549.90,299.10L547.60,301.40L545.30,299.10Z" fill="none" stroke="#000" stroke-width="0.85"/>
<path d="M543.60,304.90L545.90,307.20L543.60,309.50L541.30,307.20Z" fill="none" stroke="#000" stroke-width="0.85"/>
<path d="M543.60,314.30L545.90,316.60L543.60,318.90L541.30,316.60Z" fill="none" stroke="#000" stroke-width="0.85"/>
<path d="M543.60,292.10L545.90,294.40L543.60,296.70L541.30,294.40Z" fill="none" stroke="#000" stroke-width="0.85"/>
<line x1="543.6" y1="294.0" x2="543.6" y2="312.2" stroke="#222" stroke-width="0.95" />
<line x1="539.3000000000001" y1="294.0" x2="547.9" y2="294.0" stroke="#222" stroke-width="0.95" />
<line x1="539.3000000000001" y1="312.2" x2="547.9" y2="312.2" stroke="#222" stroke-width="0.95" />
<path d="M569.80,283.90L572.10,286.20L569.80,288.50L567.50,286.20Z" fill="none" stroke="#000" stroke-width="0.85"/>
<path d="M569.80,287.40L572.10,289.70L569.80,292.00L567.50,289.70Z" fill="none" stroke="#000" stroke-width="0.85"/>
<path d="M569.80,301.00L572.10,303.30L569.80,305.60L567.50,303.30Z" fill="none" stroke="#000" stroke-width="0.85"/>
<path d="M569.80,306.80L572.10,309.10L569.80,311.40L567.50,309.10Z" fill="none" stroke="#000" stroke-width="0.85"/>
<path d="M569.80,317.80L572.10,320.10L569.80,322.40L567.50,320.10Z" fill="none" stroke="#000" stroke-width="0.85"/>
<line x1="569.8" y1="286.9" x2="569.8" y2="315.4" stroke="#222" stroke-width="0.95" />
<line x1="565.5" y1="286.9" x2="574.0999999999999" y2="286.9" stroke="#222" stroke-width="0.95" />
<line x1="565.5" y1="315.4" x2="574.0999999999999" y2="315.4" stroke="#222" stroke-width="0.95" />
<path d="M592.20,296.10L594.50,298.40L592.20,300.70L589.90,298.40Z" fill="none" stroke="#000" stroke-width="0.85"/>
<path d="M599.70,296.10L602.00,298.40L599.70,300.70L597.40,298.40Z" fill="none" stroke="#000" stroke-width="0.85"/>
<path d="M595.70,304.90L598.00,307.20L595.70,309.50L593.40,307.20Z" fill="none" stroke="#000" stroke-width="0.85"/>
<path d="M595.70,313.80L598.00,316.10L595.70,318.40L593.40,316.10Z" fill="none" stroke="#000" stroke-width="0.85"/>
<path d="M595.70,327.10L598.00,329.40L595.70,331.70L593.40,329.40Z" fill="none" stroke="#000" stroke-width="0.85"/>
<line x1="595.7" y1="298.0" x2="595.7" y2="323.2" stroke="#222" stroke-width="0.95" />
<line x1="591.1" y1="298.0" x2="600.3000000000001" y2="298.0" stroke="#222" stroke-width="0.95" />
<line x1="591.1" y1="323.2" x2="600.3000000000001" y2="323.2" stroke="#222" stroke-width="0.95" />
<path d="M569.3,283.4 V278 H595.7 V283.4" fill="none" stroke="#333" stroke-width="0.9"/>
<text x="583" y="274.1" font-size="7.95" text-anchor="middle" font-weight="bold" font-family='"Liberation Serif", serif' fill="#000" >500 μg/ mL</text>
<line x1="43.5" y1="42.750000000000014" x2="43.5" y2="171.0" stroke="#000" stroke-width="1.2" />
<line x1="43.5" y1="170.4" x2="221.5" y2="170.4" stroke="#000" stroke-width="1.2" />
<line x1="38.5" y1="42.750000000000014" x2="43.5" y2="42.750000000000014" stroke="#000" stroke-width="1.2" />
<line x1="38.5" y1="85.30000000000001" x2="43.5" y2="85.30000000000001" stroke="#000" stroke-width="1.2" />
<line x1="38.5" y1="127.85000000000001" x2="43.5" y2="127.85000000000001" stroke="#000" stroke-width="1.2" />
<line x1="38.5" y1="170.4" x2="43.5" y2="170.4" stroke="#000" stroke-width="1.2" />
<line x1="63.7" y1="170.4" x2="63.7" y2="175.5" stroke="#000" stroke-width="1.2" />
<line x1="102.7" y1="170.4" x2="102.7" y2="175.5" stroke="#000" stroke-width="1.2" />
<line x1="150.3" y1="170.4" x2="150.3" y2="175.5" stroke="#000" stroke-width="1.2" />
<line x1="198.5" y1="170.4" x2="198.5" y2="175.5" stroke="#000" stroke-width="1.2" />
<line x1="253.3" y1="38.849999999999994" x2="253.3" y2="169.5" stroke="#000" stroke-width="1.2" />
<line x1="253.3" y1="168.9" x2="449" y2="168.9" stroke="#000" stroke-width="1.2" />
<line x1="250" y1="38.849999999999994" x2="253.3" y2="38.849999999999994" stroke="#000" stroke-width="1.25" />
<line x1="250" y1="82.2" x2="253.3" y2="82.2" stroke="#000" stroke-width="1.25" />
<line x1="250" y1="125.55000000000001" x2="253.3" y2="125.55000000000001" stroke="#000" stroke-width="1.25" />
<line x1="250" y1="168.9" x2="253.3" y2="168.9" stroke="#000" stroke-width="1.25" />
<line x1="270" y1="168.9" x2="270" y2="174.4" stroke="#000" stroke-width="1.2" />
<line x1="294.4" y1="168.9" x2="294.4" y2="174.4" stroke="#000" stroke-width="1.2" />
<line x1="318.8" y1="168.9" x2="318.8" y2="174.4" stroke="#000" stroke-width="1.2" />
<line x1="343.2" y1="168.9" x2="343.2" y2="174.4" stroke="#000" stroke-width="1.2" />
<line x1="383.7" y1="168.9" x2="383.7" y2="174.4" stroke="#000" stroke-width="1.2" />
<line x1="408" y1="168.9" x2="408" y2="174.4" stroke="#000" stroke-width="1.2" />
<line x1="432.3" y1="168.9" x2="432.3" y2="174.4" stroke="#000" stroke-width="1.2" />
<line x1="69.5" y1="268.65" x2="69.5" y2="404.40000000000003" stroke="#000" stroke-width="1.3" />
<line x1="64.4" y1="403.8" x2="205.6" y2="403.8" stroke="#000" stroke-width="1.3" />
<line x1="64.4" y1="268.65" x2="69.5" y2="268.65" stroke="#000" stroke-width="1.3" />
<line x1="64.4" y1="313.70000000000005" x2="69.5" y2="313.70000000000005" stroke="#000" stroke-width="1.3" />
<line x1="64.4" y1="358.75" x2="69.5" y2="358.75" stroke="#000" stroke-width="1.3" />
<line x1="64.4" y1="403.8" x2="69.5" y2="403.8" stroke="#000" stroke-width="1.3" />
<line x1="90.2" y1="403.8" x2="90.2" y2="408.9" stroke="#000" stroke-width="1.3" />
<line x1="121.2" y1="403.8" x2="121.2" y2="408.9" stroke="#000" stroke-width="1.3" />
<line x1="152.4" y1="403.8" x2="152.4" y2="408.9" stroke="#000" stroke-width="1.3" />
<line x1="184.2" y1="403.8" x2="184.2" y2="408.9" stroke="#000" stroke-width="1.3" />
<line x1="299.5" y1="268.55" x2="299.5" y2="404.90000000000003" stroke="#000" stroke-width="1.3" />
<line x1="294.4" y1="403.3" x2="435" y2="403.3" stroke="#000" stroke-width="1.3" />
<line x1="294.4" y1="268.55" x2="299.5" y2="268.55" stroke="#000" stroke-width="1.3" />
<line x1="294.4" y1="313.8" x2="299.5" y2="313.8" stroke="#000" stroke-width="1.3" />
<line x1="294.4" y1="359.05" x2="299.5" y2="359.05" stroke="#000" stroke-width="1.3" />
<line x1="294.4" y1="403.3" x2="299.5" y2="403.3" stroke="#000" stroke-width="1.3" />
<line x1="320" y1="403.3" x2="320" y2="408.9" stroke="#000" stroke-width="1.3" />
<line x1="350.8" y1="403.3" x2="350.8" y2="408.9" stroke="#000" stroke-width="1.3" />
<line x1="382" y1="403.3" x2="382" y2="408.9" stroke="#000" stroke-width="1.3" />
<line x1="413" y1="403.3" x2="413" y2="408.9" stroke="#000" stroke-width="1.3" />
<line x1="526.1" y1="272.6" x2="526.1" y2="403.1" stroke="#000" stroke-width="1.3" />
<line x1="520.7" y1="402.5" x2="613.5" y2="402.5" stroke="#000" stroke-width="1.3" />
<line x1="520.7" y1="272.6" x2="526.1" y2="272.6" stroke="#000" stroke-width="1.3" />
<line x1="520.7" y1="315.9" x2="526.1" y2="315.9" stroke="#000" stroke-width="1.3" />
<line x1="520.7" y1="359.2" x2="526.1" y2="359.2" stroke="#000" stroke-width="1.3" />
<line x1="520.7" y1="402.5" x2="526.1" y2="402.5" stroke="#000" stroke-width="1.3" />
<line x1="543.5" y1="402.5" x2="543.5" y2="408" stroke="#000" stroke-width="1.3" />
<line x1="569.5" y1="402.5" x2="569.5" y2="408" stroke="#000" stroke-width="1.3" />
<line x1="595.5" y1="402.5" x2="595.5" y2="408" stroke="#000" stroke-width="1.3" />
</svg>
</body></html>
